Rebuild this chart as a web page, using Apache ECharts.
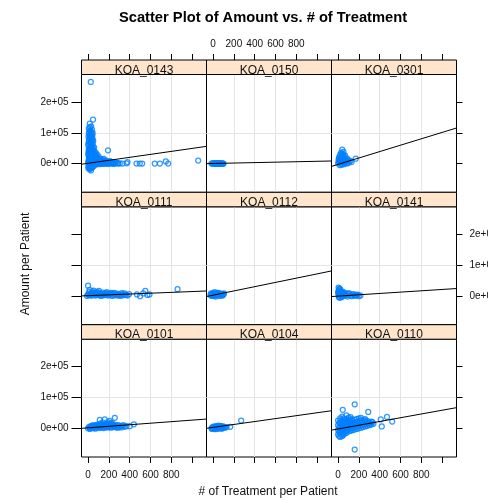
<!DOCTYPE html>
<html>
<head>
<meta charset="utf-8">
<script src="https://cdn.jsdelivr.net/npm/echarts@6/dist/echarts.min.js"></script>
<style>
  html, body { margin: 0; padding: 0; background: #fff; }
  #chart { width: 488px; height: 500px; }
</style>
</head>
<body>
<div id="chart"></div>
<script>
// Panel order: top row first, left to right
const panelNames = ['KOA_0143', 'KOA_0150', 'KOA_0301',
                    'KOA_0111', 'KOA_0112', 'KOA_0141',
                    'KOA_0101', 'KOA_0104', 'KOA_0110'];

// [# of treatment, amount] per patient
const pts0143 = [
  [26, 265000],
  [48, 143000], [16, 130000], [7, 114000], [30, 121000], [38, 110000], [12, 104000], [24, 97000],
  [42, 92000], [4, 88000], [18, 82000], [33, 77000], [9, 71000], [27, 67000], [46, 63000], [2, 59000],
  [20, 55000], [37, 51000], [8, 47000], [25, 43000], [54, 41000], [14, 37000], [32, 34000], [62, 31000],
  [3, 28000], [43, 26000], [72, 24000], [19, 22000], [51, 20000], [86, 18000], [10, 16000], [30, 14000],
  [66, 13000], [101, 12000], [5, 10000], [40, 9000], [121, 9000], [76, 8000], [22, 6000], [141, 6000],
  [56, 5000], [95, 4000], [160, 4000], [12, 3000], [181, 3000], [35, 2000], [112, 2000], [202, 2000],
  [222, 1500], [2, 1000], [61, 1000], [241, 1000], [262, 1000], [283, 500], [305, 500], [85, 0],
  [131, 0], [171, 0], [15, -2000], [46, -3000], [76, -3000], [106, -2000], [150, -1000], [191, -1000],
  [26, -6000], [56, -8000], [5, -10000], [36, -14000], [15, -18000], [28, -22000],
  [44, 100000], [20, 108000], [35, 86000], [14, 92000], [50, 74000], [28, 58000], [40, 45000],
  [6, 39000], [58, 53000], [22, 30000], [48, 34000], [70, 18000], [90, 11000], [110, 7000],
  [60, 22000], [82, 14000], [130, 10000], [100, 22000], [120, 16000], [140, 13000],
  [3, -15000], [13, -12000], [23, -16000], [33, -9000], [43, -11000], [8, -5000], [18, -8000], [38, -6000],
  [3, 5000], [13, 9000], [23, 12000], [33, 7000], [43, 15000], [8, 20000], [18, 25000], [28, 19000],
  [38, 24000], [48, 27000], [3, 33000], [13, 30000], [23, 36000], [33, 40000], [43, 38000], [8, 44000],
  [18, 48000], [28, 52000], [38, 56000], [48, 50000], [3, 65000], [13, 62000], [23, 72000], [33, 68000],
  [43, 80000], [8, 78000], [18, 86000], [28, 90000], [38, 96000], [8, 98000], [28, 104000], [18, 118000],
  [38, 72000], [65, 5000], [80, -1000], [95, 10000], [115, 4000], [125, -1000], [135, 7000], [145, 2000],
  [165, 8000], [185, 6000], [195, 2000], [205, 5000], [215, 0], [235, 2000], [245, -1000], [270, 3000],
  [290, 1000], [55, 14000], [70, 28000], [80, 22000], [62, 40000], [90, 28000], [75, 35000],
  [192, 43000], [152, 15000], [175, 10000], [230, 5000], [212, 8000], [252, 4000],
  [330, 0], [379, 5000], [370, 1000], [465, 0], [497, 0], [520, 0], [641, 0], [690, 0],
  [747, 7000], [770, 0], [1058, 10000]
];
const pts0150 = [
  [-15, 0], [0, 1000], [10, -500], [20, 500], [30, 0], [40, 1000], [50, -500], [60, 500],
  [70, 0], [80, 1000], [90, 0], [100, -500], [25, 2000], [55, 1500], [85, -1000],
  [5, 0], [15, 1000], [35, -500], [45, 500], [65, 1000], [75, -500], [95, 500], [-5, 500]
];
const pts0301 = [
  [40, 45000], [30, 36000], [52, 38000], [20, 29000], [45, 31000], [68, 26000], [10, 21000], [35, 23000],
  [60, 19000], [88, 16000], [5, 13000], [25, 15000], [55, 11000], [80, 9000], [108, 7000], [15, 6000],
  [42, 4000], [70, 3000], [98, 2000], [0, 1000], [30, -2000], [60, -2000], [18, -5000], [120, 9000],
  [170, 16000], [130, 5000], [48, 16000], [22, 10000], [75, 14000], [38, 12000], [12, 3000], [85, 1000],
  [25, 5000], [50, 6000], [65, 12000], [35, 30000], [45, 22000], [15, 17000], [30, 8000], [55, 25000],
  [95, 11000], [40, -3000], [8, 8000], [62, 8000]
];
const pts0111 = [
  [0, 33000], [-10, 0], [0, 5000], [10, 12000], [20, 2000], [30, 8000], [40, 15000], [50, 4000],
  [60, 10000], [70, 1000], [80, 7000], [90, 13000], [100, 3000], [110, 9000], [120, 0], [130, 6000],
  [140, 11000], [150, 2000], [160, 8000], [170, 4000], [180, 12000], [190, 1000], [200, 7000],
  [210, 3000], [220, 10000], [230, 0], [240, 6000], [250, 2000], [260, 9000], [270, 4000], [280, 1000],
  [290, 7000], [300, 3000], [310, 0], [320, 5000], [335, 2000], [350, 8000], [365, 3000], [380, 1000],
  [395, 6000], [15, 20000], [55, 17000], [105, 16000], [470, 5000], [500, -1000], [530, 8000],
  [550, 16000], [570, 3000], [590, 5000], [860, 22000],
  [5, 3000], [25, 6000], [35, 1000], [45, 10000], [65, 6000], [85, 3000], [95, 9000], [115, 5000],
  [135, 2000], [155, 6000], [175, 9000], [195, 4000], [215, 7000], [245, 10000], [285, 5000],
  [325, 9000], [355, 4000]
];
const pts0112 = [
  [-25, 3000], [-10, 6000], [0, 9000], [10, 4000], [20, 1000], [30, 7000], [40, 3000], [50, 10000],
  [60, 5000], [70, 2000], [80, 7000], [90, 4000], [100, 6000], [5, 0], [25, -2000], [55, 0],
  [85, 1000], [15, 12000], [45, 6000], [65, 8000],
  [-20, 8000], [-5, 2000], [35, 4000], [75, 5000], [95, 2000], [105, 8000], [-15, 0], [35, 10000]
];
const pts0141 = [
  [5, 27000], [10, 20000], [15, 15000], [20, 22000], [0, 10000], [25, 8000], [30, 13000], [12, 6000],
  [40, 5000], [50, 9000], [60, 3000], [70, 7000], [80, 2000], [100, 5000], [120, 1000], [140, 4000],
  [160, 0], [180, 3000], [200, -1000], [215, 1000], [10, -2000], [35, -4000], [55, 0], [90, -2000],
  [5, 3000], [18, -6000], [28, 1000], [45, 14000], [65, 10000], [110, 8000], [130, -1000], [150, 6000],
  [170, 2000], [190, 4000],
  [3, 15000], [8, 10000], [13, 24000], [22, 16000], [33, 6000], [48, 2000], [58, 6000], [75, 4000],
  [95, 8000], [8, -4000], [25, 4000]
];
const pts0101 = [
  [0, 0], [10, 5000], [20, -2000], [30, 8000], [40, 2000], [50, 10000], [60, 4000], [70, -1000],
  [80, 7000], [90, 12000], [100, 3000], [110, 9000], [120, 15000], [130, 5000], [140, 11000],
  [150, 1000], [160, 8000], [170, 14000], [180, 4000], [190, 10000], [200, 6000], [210, 16000],
  [220, 2000], [230, 9000], [240, 12000], [250, 5000], [260, 8000], [270, 3000], [280, 6000],
  [290, 10000], [300, 4000], [113, 27000], [160, 29000], [208, 24000], [257, 34000], [368, 7000],
  [400, 7000], [440, 13000], [330, 8000], [350, 5000],
  [15, 1000], [25, 3000], [35, 5000], [45, 7000], [55, 1000], [65, 8000], [75, 3000], [85, 11000],
  [95, 6000], [105, 1000], [115, 6000], [125, 10000], [135, 2000], [145, 7000], [155, 12000],
  [165, 3000], [175, 9000], [185, 15000], [195, 3000], [205, 11000], [215, 8000], [225, 13000],
  [235, 4000], [245, 7000], [265, 11000], [285, 2000], [305, 8000], [320, 3000], [340, 10000],
  [140, 19000], [190, 20000], [230, 18000]
];
const pts0104 = [
  [-15, 0], [-5, 4000], [5, -1000], [15, 5000], [25, 1000], [35, 7000], [45, 2000], [55, 6000],
  [65, 0], [75, 8000], [85, 3000], [95, 6000], [105, 2000], [20, -3000], [50, 9000], [80, -1000],
  [110, 5000], [165, 5000], [270, 25000], [130, 4000],
  [0, 2000], [10, 6000], [30, 3000], [40, -2000], [60, 3000], [70, 6000], [90, 0], [100, 4000],
  [120, 3000], [-10, -2000]
];
const pts0110 = [
  [0, -20000], [0, -5000], [0, 10000], [0, 25000],
  [20, -28000], [20, -12000], [20, 2000], [20, 18000], [20, 32000],
  [40, -25000], [40, -8000], [40, 8000], [40, 22000], [40, 38000],
  [60, -18000], [60, -2000], [60, 14000], [60, 28000],
  [80, -15000], [80, 0], [80, 15000], [80, 30000], [80, 42000],
  [100, -10000], [100, 5000], [100, 20000], [100, 35000],
  [120, -8000], [120, 8000], [120, 22000], [120, 36000],
  [140, -6000], [140, 10000], [140, 25000],
  [160, -4000], [160, 12000], [160, 28000],
  [180, -2000], [180, 14000], [180, 30000],
  [200, 0], [200, 16000], [200, 32000],
  [220, 2000], [220, 18000], [220, 34000],
  [240, 4000], [240, 20000],
  [260, 6000], [260, 22000], [260, 30000],
  [280, 8000], [280, 24000],
  [300, 10000], [300, 20000],
  [320, 12000], [320, 22000],
  [340, 15000],
  [10, -12000], [10, 3000], [10, 18000], [30, -20000], [30, -4000], [30, 12000], [30, 26000],
  [50, -14000], [50, 2000], [50, 18000], [50, 32000], [70, -10000], [70, 6000], [70, 22000],
  [90, -6000], [90, 8000], [90, 24000], [110, -2000], [110, 12000], [110, 28000], [130, 0],
  [130, 15000], [130, 30000], [150, 2000], [150, 18000], [170, 5000], [170, 20000], [190, 7000],
  [190, 22000], [210, 9000], [210, 25000], [230, 10000], [230, 26000], [250, 12000], [250, 27000],
  [270, 14000], [290, 16000], [310, 15000], [330, 20000], [10, -25000], [50, -22000],
  [160, 78000], [45, 60000], [160, -69000], [290, 53000], [410, 29000], [470, 37000],
  [420, 6000], [520, 22000]
];
const panelPoints = [pts0143, pts0150, pts0301, pts0111, pts0112, pts0141, pts0101, pts0104, pts0110];

// Least-squares fit per panel: amount = intercept + slope * treatments
const fitIntercept = [1043, 446, -2465, 840, 2353, -637, 1575, 2990, -2170];
const fitSlope = [48.3, 7.08, 103.7, 13.3, 69.1, 21.6, 25.0, 47.5, 60.8];

// Axis ranges and ticks (shared by all panels)
const xRange = [-63, 1138];
const yRange = [-93000, 289000];
const xTicks = [0, 200, 400, 600, 800, 1000];
const xLabelValues = [0, 200, 400, 600, 800];
const yTicks = [0, 100000, 200000];
const yTickText = ['0e+00', '1e+05', '2e+05'];

const FONT = '"Liberation Sans", Arial, Helvetica, sans-serif';
const ACCENT = '#0080ff';

// Layout of the 3 x 3 lattice
const colLeft = [81.5, 206.5, 331.5];
const panelW = 125;
const rowTop = [60, 192.3, 324.7];
const stripH = 14.5;
const plotH = 117.8;

const grids = [], xAxes = [], yAxes = [], series = [], graphics = [];

panelNames.forEach((name, i) => {
  const r = Math.floor(i / 3), c = i % 3;
  grids.push({
    left: colLeft[c], top: rowTop[r] + stripH, width: panelW, height: plotH,
    show: true, borderColor: '#000', borderWidth: 1, backgroundColor: 'transparent',
    containLabel: false, outerBoundsMode: 'none'
  });
  xAxes.push({
    gridIndex: i, type: 'value', min: xRange[0], max: xRange[1],
    splitNumber: 5, minInterval: 200, maxInterval: 200,
    position: r === 0 ? 'top' : 'bottom',
    offset: r === 0 ? stripH : 0,
    axisLine: { show: false, onZero: false },
    axisTick: { show: r !== 1, inside: false, length: 6, customValues: xTicks,
                lineStyle: { color: '#000', width: 1 } },
    axisLabel: { show: (r === 0 && c === 1) || (r === 2 && c !== 1),
                 customValues: xLabelValues, fontSize: 10, fontFamily: FONT, color: '#111',
                 margin: r === 0 ? 11 : 13, formatter: v => String(v) },
    splitLine: { show: true, showMinLine: false, showMaxLine: false,
                 lineStyle: { color: '#e4e4e4', width: 1 } }
  });
  yAxes.push({
    gridIndex: i, type: 'value', min: yRange[0], max: yRange[1],
    splitNumber: 4, minInterval: 100000, maxInterval: 100000,
    position: c === 2 ? 'right' : 'left',
    axisLine: { show: false, onZero: false },
    axisTick: { show: c !== 1, inside: false, length: c === 0 ? 10 : 6, customValues: yTicks,
                lineStyle: { color: '#000', width: 1 } },
    axisLabel: { show: (c === 0 && r !== 1) || (c === 2 && r === 1),
                 customValues: yTicks, fontSize: 10, fontFamily: FONT, color: '#111',
                 margin: 13, formatter: v => yTickText[yTicks.indexOf(v)] },
    splitLine: { show: true, showMinLine: false, showMaxLine: false,
                 lineStyle: { color: '#e4e4e4', width: 1 } }
  });
  series.push({
    type: 'scatter', xAxisIndex: i, yAxisIndex: i,
    data: panelPoints[i], symbol: 'circle', symbolSize: 5,
    itemStyle: { color: 'transparent', borderColor: ACCENT, borderWidth: 1.25 },
    silent: true, animation: false
  });
  series.push({
    type: 'line', xAxisIndex: i, yAxisIndex: i, showSymbol: false,
    data: xRange.map(x => [x, fitIntercept[i] + fitSlope[i] * x]),
    lineStyle: { color: '#000', width: 1 }, silent: true, animation: false, z: 3
  });
  // Strip with the panel's name
  graphics.push({
    type: 'rect', z: 10,
    shape: { x: colLeft[c], y: rowTop[r], width: panelW, height: stripH },
    style: { fill: '#ffe5cc', stroke: '#000', lineWidth: 1 }
  });
  graphics.push({
    type: 'text', z: 11,
    x: colLeft[c] + panelW / 2, y: rowTop[r] + stripH / 2 + 3,
    style: { text: name, fontSize: 12, fontFamily: FONT, fill: '#111',
             align: 'center', verticalAlign: 'middle' }
  });
});

// Titles
graphics.push({
  type: 'text', z: 11, x: 263, y: 18,
  style: { text: 'Scatter Plot of Amount vs. # of Treatment', fontSize: 14.7, fontWeight: 'bold',
           fontFamily: FONT, fill: '#000', align: 'center', verticalAlign: 'middle' }
});
graphics.push({
  type: 'text', z: 11, x: 268, y: 492,
  style: { text: '# of Treatment per Patient', fontSize: 12, fontFamily: FONT, fill: '#111',
           align: 'center', verticalAlign: 'middle' }
});
graphics.push({
  type: 'text', z: 11, x: 26, y: 264, rotation: Math.PI / 2,
  style: { text: 'Amount per Patient', fontSize: 12, fontFamily: FONT, fill: '#111',
           align: 'center', verticalAlign: 'middle' }
});

const chart = echarts.init(document.getElementById('chart'), null, { renderer: 'canvas' });
chart.setOption({
  animation: false,
  backgroundColor: '#fff',
  grid: grids,
  xAxis: xAxes,
  yAxis: yAxes,
  series: series,
  graphic: { elements: graphics }
});
</script>
</body>
</html>
